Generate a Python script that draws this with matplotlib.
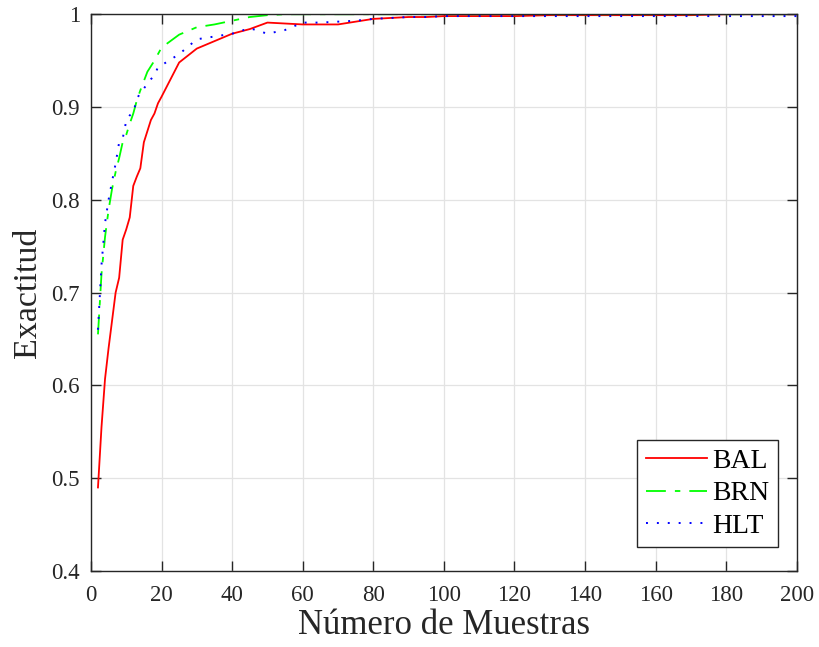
import matplotlib
matplotlib.use("Agg")
import matplotlib.pyplot as plt

# Number of samples
samples = [2, 3, 4, 5, 6, 7, 8, 9, 10, 11, 12, 13, 14, 15, 16, 17, 18, 19, 20,
           25, 30, 35, 40, 45, 50, 55, 60, 65, 70, 75, 80, 85, 90, 95, 100,
           110, 120, 130, 140, 150, 160, 170, 180, 190, 200]

# Accuracy per method
bal = [0.490, 0.555, 0.607, 0.640, 0.670, 0.700, 0.716, 0.757, 0.768, 0.781,
       0.815, 0.825, 0.834, 0.862, 0.874, 0.886, 0.893, 0.904, 0.911,
       0.948, 0.963, 0.971, 0.979, 0.984, 0.991, 0.990, 0.989, 0.989, 0.989,
       0.992, 0.995, 0.996, 0.997, 0.997, 0.998,
       0.998, 0.998, 0.999, 0.999, 0.999, 0.999, 0.999, 1.000, 1.000, 1.000]
brn = [0.655, 0.720, 0.760, 0.789, 0.812, 0.830, 0.845, 0.862, 0.870, 0.882,
       0.893, 0.907, 0.918, 0.928, 0.938, 0.944, 0.950, 0.957, 0.964,
       0.978, 0.986, 0.989, 0.993, 0.997, 0.999, 1.000, 1.000, 1.000, 1.000,
       1.000, 1.000, 1.000, 1.000, 1.000, 1.000,
       1.000, 1.000, 1.000, 1.000, 1.000, 1.000, 1.000, 1.000, 1.000, 1.000]
hlt = [0.660, 0.730, 0.775, 0.800, 0.820, 0.839, 0.862, 0.866, 0.885, 0.891,
       0.894, 0.908, 0.916, 0.920, 0.925, 0.930, 0.934, 0.943, 0.945,
       0.957, 0.973, 0.976, 0.979, 0.985, 0.979, 0.983, 0.991, 0.991, 0.992,
       0.993, 0.995, 0.996, 0.997, 0.997, 0.998,
       0.998, 0.998, 0.998, 0.998, 0.998, 0.998, 0.998, 0.998, 0.998, 0.998]

x_ticks = [0, 20, 40, 60, 80, 100, 120, 140, 160, 180, 200]
y_ticks = [0.4, 0.5, 0.6, 0.7, 0.8, 0.9, 1.0]
y_tick_labels = ["0.4", "0.5", "0.6", "0.7", "0.8", "0.9", "1"]

plt.rcParams["font.family"] = ["Liberation Serif", "DejaVu Serif"]

fig = plt.figure(figsize=(8.19, 6.47), dpi=100)
ax = fig.add_axes([0.111, 0.1175, 0.862, 0.8605])

ax.plot(samples, bal, color=(1, 0, 0), lw=1.3, ls="-", label="BAL")
ax.plot(samples, brn, color=(0, 1, 0), lw=1.3, ls=(0, (11, 5, 3, 5)), label="BRN")
ax.plot(samples, hlt, color=(0, 0, 1), lw=1.4, ls=(0, (1, 4.6)), label="HLT")

ax.set_xlim(0, 200)
ax.set_ylim(0.4, 1.0)
ax.set_xticks(x_ticks)
ax.set_yticks(y_ticks)
ax.set_yticklabels(y_tick_labels)
ax.grid(True, color="#e3e3e3", lw=0.9)
ax.set_axisbelow(True)

ax.tick_params(direction="in", length=7, width=1.0, top=True, right=True,
               labelsize=16.5, colors="#262626")
ax.tick_params(axis="x", pad=10)
ax.tick_params(axis="y", pad=8)
for s in ax.spines.values():
    s.set_color("#262626")
    s.set_linewidth(1.0)

ax.set_xlabel("Número de Muestras", fontsize=25, color="#262626", labelpad=2)
ax.set_ylabel("Exactitud", fontsize=24.5, color="#262626", labelpad=6)

leg = ax.legend(loc="lower right", bbox_to_anchor=(0.973, 0.043),
                borderaxespad=0, fontsize=20, fancybox=False, framealpha=1,
                edgecolor="#262626", handlelength=2.2, handletextpad=0.2,
                labelspacing=0.25, borderpad=0.3)
leg.get_frame().set_linewidth(1.0)

fig.savefig("out.png", dpi=100)
